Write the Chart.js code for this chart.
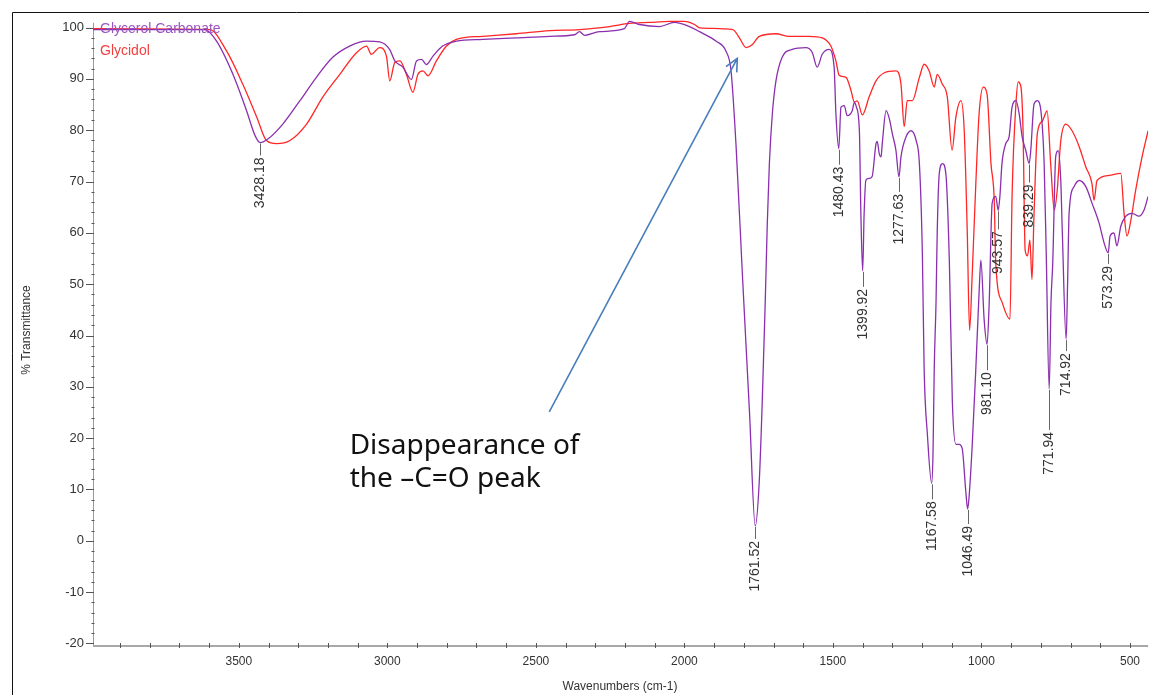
<!DOCTYPE html>
<html>
<head>
<meta charset="utf-8">
<script src="https://cdn.jsdelivr.net/npm/chart.js@4.4.1/dist/chart.umd.min.js"></script>
<style>
html, body { margin: 0; padding: 0; background: #fff; }
#wrap { width: 1149px; height: 695px; }
</style>
</head>
<body>
<div id="wrap"><canvas id="chart" width="1149" height="695"></canvas></div>
<script>
// Glycerol Carbonate (purple)
const gcWavenumbers = [3991, 3614, 3575, 3520, 3474, 3445, 3428.18, 3400, 3352, 3295, 3239, 3184, 3127, 3070, 3026, 2992, 2975, 2948, 2919, 2902, 2885, 2869, 2847, 2814, 2768, 2679, 2566, 2454, 2370, 2353, 2336, 2286, 2202, 2185, 2151, 2084, 2034, 1983, 1949, 1893, 1860, 1843, 1826, 1804, 1781, 1761.52, 1748, 1738, 1728, 1721, 1714, 1704, 1692, 1671, 1637, 1591, 1570, 1553, 1536, 1513, 1496, 1490, 1480.43, 1473, 1462, 1452, 1435, 1428, 1421, 1411, 1406, 1399.92, 1395, 1389, 1378, 1368, 1355, 1351, 1344, 1338, 1334, 1321, 1310, 1300, 1288, 1277.63, 1271, 1254, 1237, 1220, 1209, 1199, 1193, 1182, 1167.58, 1163, 1159, 1153, 1149, 1142, 1131, 1120, 1108, 1098, 1086, 1075, 1065, 1052, 1046.49, 1041, 1031, 1019, 1008, 1002, 991, 981.10, 974, 964, 952, 943.57, 938, 931, 918, 907, 897, 884, 873, 863, 851, 839.29, 834, 823, 812, 800, 789, 782, 771.94, 766, 760, 750, 742, 733, 728, 714.92, 710, 705, 688, 671, 649, 628, 604, 587, 573.29, 567, 554, 544, 531, 514, 493, 470, 453, 439];
const gcTransmittance = [99.6, 99.6, 97.35, 90.9, 83.8, 78.9, 77.6, 78.4, 81.2, 85.7, 90.3, 94.2, 96.4, 97.35, 97.2, 95.7, 93.5, 92.3, 89.9, 93.5, 93.8, 92.8, 94.4, 96.4, 97.35, 97.7, 98.0, 98.3, 98.6, 99.2, 98.5, 99.2, 99.8, 101.2, 100.6, 100.2, 101.0, 100.2, 99.2, 97.35, 95.4, 91.55, 76.8, 50.9, 25.15, 2.9, 11.6, 27.1, 46.4, 61.9, 73.5, 83.2, 89.55, 94.2, 95.75, 96.1, 95.2, 92.3, 94.8, 95.75, 92.3, 83.2, 76.4, 84.5, 84.8, 82.85, 83.8, 85.4, 84.5, 79.9, 63.8, 52.6, 63.8, 70.3, 70.6, 71.0, 77.4, 77.8, 75.4, 74.8, 77.4, 83.8, 82.2, 79.3, 76.1, 70.9, 74.8, 78.7, 79.9, 78.0, 73.5, 56.1, 33.5, 20.7, 11.2, 17.4, 33.5, 46.4, 60.0, 71.6, 73.5, 71.6, 54.2, 27.1, 18.8, 18.8, 18.0, 9.1, 6.2, 9.1, 18.8, 33.5, 48.4, 54.7, 43.1, 38.3, 46.4, 65.8, 67.1, 64.4, 67.1, 73.5, 77.4, 78.7, 84.5, 85.75, 83.2, 78.7, 76.1, 73.5, 76.1, 85.1, 85.75, 83.8, 73.5, 56.1, 29.6, 46.4, 54.2, 74.9, 76.0, 70.2, 60.5, 39.3, 50.3, 63.8, 69.05, 70.2, 69.05, 65.8, 61.9, 58.0, 56.1, 59.4, 60.0, 57.45, 61.3, 63.25, 63.8, 63.25, 64.4, 67.1];

// Glycidol (red)
const gdWavenumbers = [3991, 3598, 3541, 3487, 3440, 3407, 3373, 3328, 3272, 3217, 3160, 3104, 3070, 3054, 3026, 3003, 2992, 2975, 2958, 2936, 2914, 2897, 2880, 2863, 2835, 2801, 2768, 2679, 2566, 2454, 2353, 2252, 2185, 2118, 2050, 2000, 1966, 1949, 1837, 1815, 1792, 1771, 1748, 1692, 1647, 1580, 1536, 1507, 1490, 1479, 1456, 1439, 1428, 1418, 1401, 1378, 1355, 1327, 1288, 1271, 1260, 1250, 1233, 1209, 1193, 1176, 1159, 1149, 1132, 1115, 1099, 1086, 1069, 1058, 1048, 1040, 1031, 1019, 1008, 994, 981, 968, 957, 952, 930, 904, 897, 884, 876, 867, 860, 853, 845, 837, 830, 823, 812, 795, 779, 767, 755, 745, 733, 716, 695, 671, 649, 628, 621, 611, 570, 531, 520, 510, 497, 481, 459, 439];
const gdTransmittance = [99.8, 99.6, 95.4, 89.0, 82.6, 78.0, 77.4, 78.0, 81.2, 86.5, 90.9, 95.1, 96.4, 94.8, 96.1, 94.4, 89.6, 93.2, 93.5, 90.9, 87.4, 90.9, 91.55, 90.6, 93.5, 96.4, 97.7, 98.3, 98.8, 99.4, 99.6, 100.2, 100.8, 101.0, 101.2, 101.2, 100.6, 99.95, 99.6, 98.0, 96.1, 96.7, 98.3, 98.8, 98.3, 98.3, 98.0, 96.4, 93.5, 90.7, 90.3, 87.7, 85.5, 85.7, 83.0, 86.5, 89.6, 91.2, 91.55, 89.0, 80.7, 85.75, 85.75, 90.3, 92.85, 91.55, 88.4, 90.9, 89.0, 86.5, 76.1, 82.6, 85.75, 79.9, 60.6, 41.0, 52.2, 69.6, 83.2, 88.4, 87.0, 73.5, 66.35, 54.2, 46.4, 43.2, 67.1, 85.1, 89.4, 88.4, 79.9, 56.7, 55.5, 58.6, 50.9, 63.8, 79.3, 81.8, 83.75, 73.5, 64.4, 68.3, 77.95, 81.2, 79.9, 76.8, 72.9, 69.6, 66.35, 70.2, 71.2, 71.6, 63.8, 59.4, 62.5, 68.3, 74.9, 79.9];

// labelled peaks of Glycerol Carbonate
const peakWavenumbers = [3428.18, 1761.52, 1480.43, 1399.92, 1277.63, 1167.58, 1046.49, 981.10, 943.57, 839.29, 771.94, 714.92, 573.29];
const peakLabels = ["3428.18", "1761.52", "1480.43", "1399.92", "1277.63", "1167.58", "1046.49", "981.10", "943.57", "839.29", "771.94", "714.92", "573.29"];

const yTickValues = [-20, -10, 0, 10, 20, 30, 40, 50, 60, 70, 80, 90, 100];
const xTickValues = [3500, 3000, 2500, 2000, 1500, 1000, 500];

const seriesNames = ["Glycerol Carbonate", "Glycidol"];
const seriesColors = ["#8a2fae", "#ff2626"];
const legendColors = ["#9a55c0", "#f04040"];

// tick stem lengths under each peak label (px), same order as peakWavenumbers
const peakStem = [12, 12, 15, 15, 14, 15, 14, 25, 18, 18, 40, 11, 10];

function interpAt(ws, ts, w) {
    for (let i = 0; i < ws.length - 1; i++) {
        const a = ws[i], b = ws[i + 1];
        if ((w <= a && w >= b)) {
            if (a === b) return ts[i];
            return ts[i] + (ts[i + 1] - ts[i]) * (a - w) / (a - b);
        }
    }
    return ts[ts.length - 1];
}

const decor = {
    id: "decor",
    beforeDatasetsDraw(chart) {
        const ctx = chart.ctx;
        const xs = chart.scales.x, ys = chart.scales.y;
        const area = chart.chartArea;
        ctx.save();
        // outer frame
        ctx.strokeStyle = "#111";
        ctx.lineWidth = 1;
        ctx.beginPath();
        ctx.moveTo(12.5, 695);
        ctx.lineTo(12.5, 12.5);
        ctx.lineTo(1149, 12.5);
        ctx.stroke();

        // y axis
        ctx.strokeStyle = "#9a9a9a";
        ctx.beginPath();
        ctx.moveTo(area.left + 0.5, area.top + 6);
        ctx.lineTo(area.left + 0.5, area.bottom);
        ctx.stroke();
        ctx.strokeStyle = "#555";
        for (let v = -20; v <= 100; v += 2) {
            const py = Math.round(ys.getPixelForValue(v)) + 0.5;
            const major = v % 10 === 0;
            ctx.beginPath();
            ctx.moveTo(area.left - (major ? 7 : 1.5), py);
            ctx.lineTo(area.left + (major ? 1 : 1.5), py);
            ctx.stroke();
        }

        // x axis
        ctx.strokeStyle = "#a8a8a8";
        ctx.lineWidth = 2;
        ctx.beginPath();
        ctx.moveTo(area.left, area.bottom + 1);
        ctx.lineTo(area.right, area.bottom + 1);
        ctx.stroke();
        ctx.lineWidth = 1;
        ctx.strokeStyle = "#555";
        for (let v = 3900; v >= 500; v -= 100) {
            const px = Math.round(xs.getPixelForValue(v)) + 0.5;
            ctx.beginPath();
            ctx.moveTo(px, area.bottom - 2);
            ctx.lineTo(px, area.bottom + 3);
            ctx.stroke();
        }

        // axis titles
        ctx.fillStyle = "#333";
        ctx.font = "12px 'Liberation Sans', Arial, sans-serif";
        ctx.textAlign = "center";
        ctx.textBaseline = "middle";
        ctx.fillText("Wavenumbers (cm-1)", 620, 687);
        ctx.save();
        ctx.translate(27, 330);
        ctx.rotate(-Math.PI / 2);
        ctx.fillText("% Transmittance", 0, 0);
        ctx.restore();
        ctx.restore();
    },
    afterDraw(chart) {
        const ctx = chart.ctx;
        const xs = chart.scales.x, ys = chart.scales.y;
        ctx.save();

        // legend texts
        ctx.font = "14px 'Liberation Sans', Arial, sans-serif";
        ctx.textAlign = "left";
        ctx.textBaseline = "alphabetic";
        ctx.fillStyle = legendColors[0];
        ctx.fillText(seriesNames[0], 100, 33);
        ctx.fillStyle = legendColors[1];
        ctx.fillText(seriesNames[1], 100, 55);

        // peak labels
        ctx.font = "14px 'Liberation Sans', Arial, sans-serif";
        peakWavenumbers.forEach((w, i) => {
            const px = Math.round(xs.getPixelForValue(w)) + 0.5;
            const py = ys.getPixelForValue(interpAt(gcWavenumbers, gcTransmittance, w));
            ctx.strokeStyle = "#666";
            ctx.lineWidth = 1;
            ctx.beginPath();
            ctx.moveTo(px, py + 1);
            ctx.lineTo(px, py + 1 + peakStem[i]);
            ctx.stroke();
            ctx.save();
            ctx.translate(px, py + 3 + peakStem[i]);
            ctx.rotate(-Math.PI / 2);
            ctx.fillStyle = "#333";
            ctx.textAlign = "right";
            ctx.textBaseline = "middle";
            ctx.fillText(peakLabels[i], 0, 0);
            ctx.restore();
        });

        // arrow to the vanished carbonyl band
        const ax0 = xs.getPixelForValue(2455), ay0 = ys.getPixelForValue(25.1);
        const ax1 = xs.getPixelForValue(1822), ay1 = ys.getPixelForValue(94);
        ctx.strokeStyle = "#4a7ebb";
        ctx.lineWidth = 1.6;
        ctx.beginPath();
        ctx.moveTo(ax0, ay0);
        ctx.lineTo(ax1, ay1);
        const ang = Math.atan2(ay1 - ay0, ax1 - ax0);
        const hl = 14, spread = 0.45;
        ctx.moveTo(ax1 - hl * Math.cos(ang - spread), ay1 - hl * Math.sin(ang - spread));
        ctx.lineTo(ax1, ay1);
        ctx.lineTo(ax1 - hl * Math.cos(ang + spread), ay1 - hl * Math.sin(ang + spread));
        ctx.stroke();

        // annotation text
        ctx.fillStyle = "#111";
        ctx.font = "28px 'Noto Sans', 'Open Sans', sans-serif";
        ctx.textAlign = "left";
        ctx.textBaseline = "alphabetic";
        const tx = xs.getPixelForValue(3127);
        ctx.fillText("Disappearance of", tx, ys.getPixelForValue(17.0));
        ctx.fillText("the \u2013C=O peak", tx, ys.getPixelForValue(10.45));
        ctx.restore();
    }
};

const toPoints = (ws, ts) => ws.map((w, i) => ({ x: w, y: ts[i] }));

const chart = new Chart(document.getElementById("chart").getContext("2d"), {
    type: "line",
    data: {
        datasets: [
            {
                label: seriesNames[0],
                data: toPoints(gcWavenumbers, gcTransmittance),
                borderColor: seriesColors[0],
                borderWidth: 1.3,
                pointRadius: 0,
                cubicInterpolationMode: "monotone"
            },
            {
                label: seriesNames[1],
                data: toPoints(gdWavenumbers, gdTransmittance),
                borderColor: seriesColors[1],
                borderWidth: 1.3,
                pointRadius: 0,
                cubicInterpolationMode: "monotone"
            }
        ]
    },
    options: {
        responsive: false,
        animation: false,
        devicePixelRatio: 1,
        layout: { padding: { top: 12, left: 0, right: 0, bottom: 0 } },
        plugins: { legend: { display: false }, tooltip: { enabled: false } },
        scales: {
            x: {
                type: "linear",
                reverse: true,
                min: 439,
                max: 3991,
                afterBuildTicks: s => { s.ticks = xTickValues.map(v => ({ value: v })); },
                afterFit: s => { s.height = 50; },
                grid: { display: false, drawTicks: false },
                border: { display: false },
                ticks: {
                    padding: 9,
                    color: "#333",
                    maxRotation: 0,
                    callback: v => String(v),
                    font: { family: "'Liberation Sans', Arial", size: 12 }
                }
            },
            y: {
                min: -20.3,
                max: 102.1,
                afterBuildTicks: s => { s.ticks = yTickValues.map(v => ({ value: v })); },
                afterFit: s => { s.width = 93; },
                grid: { display: false, drawTicks: false },
                border: { display: false },
                ticks: {
                    padding: 9,
                    color: "#333",
                    callback: v => String(v),
                    font: { family: "'Liberation Sans', Arial", size: 13 }
                }
            }
        }
    },
    plugins: [decor]
});
</script>
</body>
</html>
